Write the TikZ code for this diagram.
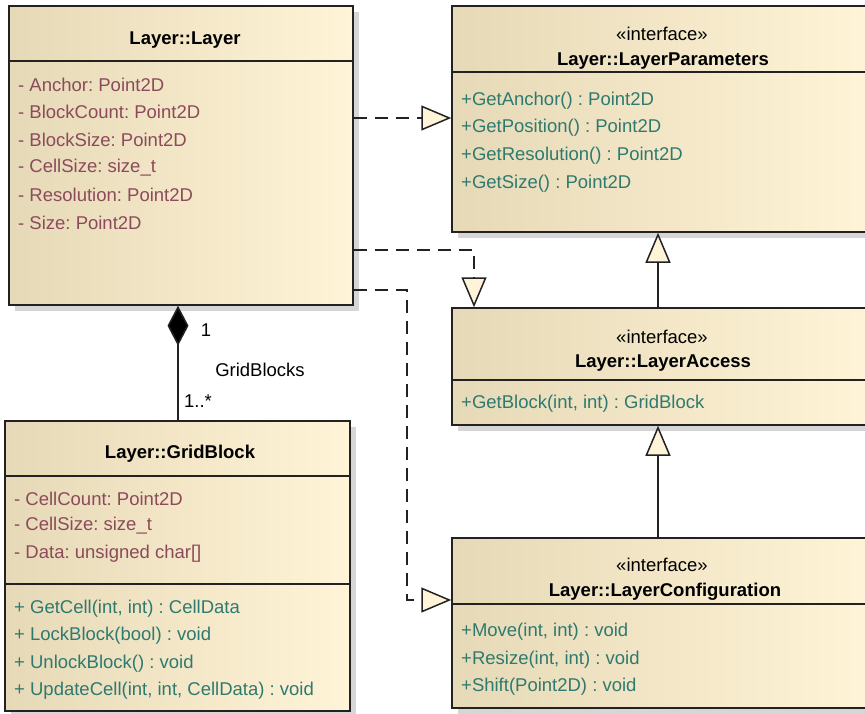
\documentclass[tikz,border=0pt]{standalone}
\usepackage{fontspec}
\setmainfont{Liberation Sans}
\usetikzlibrary{arrows.meta,shadows}
\definecolor{boxL}{HTML}{E6D9B7}
\definecolor{boxR}{HTML}{FFF4D7}
\definecolor{attrc}{HTML}{8C4A5B}
\definecolor{methc}{HTML}{2E7A6F}
\definecolor{linec}{HTML}{222222}
\tikzset{
  classbox/.style={draw=linec, line width=1.5pt, left color=boxL, right color=boxR,
    inner sep=0pt, rectangle,
    drop shadow={shadow xshift=6pt, shadow yshift=-6pt, fill=black!16, opacity=1}},
  sep/.style={draw=linec, line width=1.5pt},
  ttl/.style={font=\fontsize{18.5}{22}\selectfont\bfseries, inner sep=0pt},
  stereo/.style={inner sep=0pt},
  attr/.style={text=attrc, anchor=west, inner sep=0pt},
  meth/.style={text=methc, anchor=west, inner sep=0pt},
  lbl/.style={inner sep=0pt},
  hollow/.tip={Triangle[length=30pt 0, width=25pt 0, fill=boxR, line width=1.5pt]},
  real/.style={draw=linec, line width=1.5pt, dash pattern=on 13pt off 8pt, -{hollow}},
  gen/.style={draw=linec, line width=1.5pt, -{hollow}},
  comp/.style={draw=linec, line width=1.5pt, {Diamond[length=40pt 0, width=21pt 0, fill=black]}-}
}
\begin{document}
\frenchspacing
\begin{tikzpicture}[x=1pt,y=-1pt,font=\fontsize{18.5}{22}\selectfont]
\useasboundingbox (0,0) rectangle (865,713);
\clip (0,0) rectangle (865,713);
\fill[white] (0,0) rectangle (865,713);

% class boxes
\node[classbox, minimum width=344pt, minimum height=299pt] (layer) at (181,155.5) {};
\node[classbox, minimum width=422pt, minimum height=226pt] (params) at (663,119) {};
\node[classbox, minimum width=422pt, minimum height=117pt] (access) at (663,366.5) {};
\node[classbox, minimum width=422pt, minimum height=170pt] (config) at (663,623) {};
\node[classbox, minimum width=345pt, minimum height=290pt] (grid) at (177.5,566) {};

% separators
\draw[sep] (layer.west |- 0,61) -- (layer.east |- 0,61);
\draw[sep] (params.west |- 0,72) -- (params.east |- 0,72);
\draw[sep] (access.west |- 0,380) -- (access.east |- 0,380);
\draw[sep] (config.west |- 0,604) -- (config.east |- 0,604);
\draw[sep] (grid.west |- 0,476) -- (grid.east |- 0,476);
\draw[sep] (grid.west |- 0,584) -- (grid.east |- 0,584);

\begin{scope}[yshift=-1.5pt]
% Layer::Layer
\node[ttl] (layerT) at (185,39) {Layer::Layer};
\node[attr] (la1) at (18,83) {- Anchor: Point2D};
\node[attr] (la2) at (18,110) {- BlockCount: Point2D};
\node[attr] (la3) at (18,138) {- BlockSize: Point2D};
\node[attr] (la4) at (18,166) {- CellSize: size\_t};
\node[attr] (la5) at (18,193) {- Resolution: Point2D};
\node[attr] (la6) at (18,221) {- Size: Point2D};

% LayerParameters
\node[stereo] (pS) at (662,32) {«interface»};
\node[ttl] (pT) at (663,60) {Layer::LayerParameters};
\node[meth] (pm1) at (461,99) {+GetAnchor() : Point2D};
\node[meth] (pm2) at (461,126) {+GetPosition() : Point2D};
\node[meth] (pm3) at (461,154) {+GetResolution() : Point2D};
\node[meth] (pm4) at (461,182) {+GetSize() : Point2D};

% LayerAccess
\node[stereo] (aS) at (662,335) {«interface»};
\node[ttl] (aT) at (663,362) {Layer::LayerAccess};
\node[meth] (am1) at (461,402) {+GetBlock(int, int) : GridBlock};

% LayerConfiguration
\node[stereo] (cS) at (662,563) {«interface»};
\node[ttl] (cT) at (665,590) {Layer::LayerConfiguration};
\node[meth] (cm1) at (461,630) {+Move(int, int) : void};
\node[meth] (cm2) at (461,658) {+Resize(int, int) : void};
\node[meth] (cm3) at (461,685) {+Shift(Point2D) : void};

% GridBlock
\node[ttl] (gT) at (180,452) {Layer::GridBlock};
\node[attr] (ga1) at (14,497) {- CellCount: Point2D};
\node[attr] (ga2) at (14,524) {- CellSize: size\_t};
\node[attr] (ga3) at (14,552) {- Data: unsigned char[]};
\node[meth] (gm1) at (14,607) {+ GetCell(int, int) : CellData};
\node[meth] (gm2) at (14,634) {+ LockBlock(bool) : void};
\node[meth] (gm3) at (14,662) {+ UnlockBlock() : void};
\node[meth] (gm4) at (14,689) {+ UpdateCell(int, int, CellData) : void};

% association labels
\node[lbl] (m1) at (206,329) {1};
\node[lbl] (rn) at (260,368) {GridBlocks};
\node[lbl] (m2) at (198,400) {1..*};
\end{scope}

% connectors
\draw[real] (layer.east |- 0,118) -- (params.west |- 0,118);
\draw[real] (layer.east |- 0,250) -| (access.north -| 474,0);
\draw[real] (layer.east |- 0,290) -| (407,600) -- (config.west |- 0,600);
\draw[gen] (access.north -| 658,0) -- (params.south -| 658,0);
\draw[gen] (config.north -| 658,0) -- (access.south -| 658,0);
\draw[comp] (layer.south -| 178,0) -- (grid.north -| 178,0);
\end{tikzpicture}
\end{document}
